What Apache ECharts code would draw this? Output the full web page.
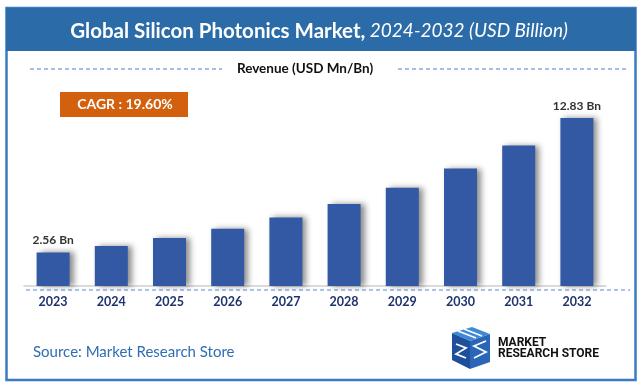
<!DOCTYPE html>
<html><head><meta charset="utf-8">
<script src="https://cdn.jsdelivr.net/npm/echarts@6/dist/echarts.min.js"></script>
<style>html,body{margin:0;padding:0;background:#fff}#c{width:643px;height:387px}</style>
</head><body><div id="c"></div>
<script>
const years = ['2023','2024','2025','2026','2027','2028','2029','2030','2031','2032'];
const revenue = [2.56, 3.06, 3.66, 4.38, 5.24, 6.27, 7.50, 8.97, 10.73, 12.83];
const labelledIdx = [0, 9];
const titleBold = 'Global Silicon Photonics Market,';
const titleItalic = ' 2024-2032 (USD Billion)';
const legendText = 'Revenue (USD Mn/Bn)';
const cagrText = 'CAGR : 19.60%';
const sourceText = 'Source: Market Research Store';

const chart = echarts.init(document.getElementById('c'), null, {renderer:'canvas'});
const F = 'Lato, "Open Sans", sans-serif';
chart.setOption({
  backgroundColor:'#fff',
  animation:false,
  grid:{left:24, right:37, top:102.7, bottom:101},
  xAxis:{type:'category', data:years,
    axisLine:{lineStyle:{color:'#cfcfcf', width:1.5}}, axisTick:{show:false},
    axisLabel:{color:'#1f3370', fontWeight:'bold', fontSize:12.5, fontFamily:F, margin:9}},
  yAxis:{type:'value', min:0, max:14, show:false, splitLine:{show:false}},
  series:[{type:'bar', data:revenue, barWidth:33,
    itemStyle:{color:'#3358a4', shadowColor:'rgba(0,0,0,0.45)', shadowBlur:6, shadowOffsetX:4, shadowOffsetY:0},
    label:{show:true, position:'top', distance:6, color:'#333', fontWeight:'bold', fontSize:12, fontFamily:F,
      formatter:p => labelledIdx.includes(p.dataIndex) ? p.value.toFixed(2)+' Bn' : ''}}],
  graphic:[
    {type:'rect', z:-1, shape:{x:6.5, y:8, width:629, height:372}, style:{fill:'none', stroke:'#3a7cc4', lineWidth:2.5}},
    {type:'rect', shape:{x:6, y:8, width:630, height:43}, style:{fill:'#2b6ca8'}},
    {type:'text', x:319, y:31, style:{text:'{b|'+titleBold+'}{i|'+titleItalic+'}', align:'center', verticalAlign:'middle',
      rich:{b:{fill:'#fff', fontWeight:'bold', fontSize:20.5, fontFamily:F}, i:{fill:'#fff', fontStyle:'italic', fontSize:19, fontFamily:F}}}},
    {type:'line', shape:{x1:30, y1:69, x2:222, y2:69}, style:{stroke:'#4a7fcf', lineWidth:1, lineDash:[4,3]}},
    {type:'line', shape:{x1:398, y1:69, x2:626, y2:69}, style:{stroke:'#4a7fcf', lineWidth:1, lineDash:[4,3]}},
    {type:'text', x:305, y:69, style:{text:legendText, align:'center', verticalAlign:'middle', fill:'#111', fontWeight:'bold', fontSize:13.5, fontFamily:F}},
    {type:'rect', shape:{x:60, y:92, width:128, height:25}, style:{fill:'#d2600f'}},
    {type:'text', x:125, y:104.5, style:{text:cagrText, align:'center', verticalAlign:'middle', fill:'#fff', fontWeight:'bold', fontSize:14, fontFamily:F}},
    {type:'line', shape:{x1:26, y1:290, x2:630, y2:290}, style:{stroke:'#5a8ad6', lineWidth:1.2, lineDash:[4,3]}},
    {type:'text', x:33, y:352, style:{text:sourceText, verticalAlign:'middle', fill:'#2e6db4', fontSize:15, fontFamily:F}},
    // logo
    {type:'polygon', shape:{points:[[452,333],[472,327],[490,334],[470,341]]}, style:{fill:'#3f8ad6'}},
    {type:'polygon', shape:{points:[[452,333],[470,341],[470,369],[452,360]]}, style:{fill:'#1d4f9a'}},
    {type:'polygon', shape:{points:[[470,341],[490,334],[490,362],[470,369]]}, style:{fill:'#2a66b8'}},
    {type:'polyline', shape:{points:[[458,331],[476,338]]}, style:{stroke:'#fff', lineWidth:1.5}},
    {type:'polyline', shape:{points:[[464,329],[482,336]]}, style:{stroke:'#fff', lineWidth:1.5}},
    {type:'polyline', shape:{points:[[456,344],[466,348],[456,354],[466,358]]}, style:{stroke:'#fff', lineWidth:1.8, fill:'none'}},
    {type:'polyline', shape:{points:[[486,341],[474,346],[486,352],[474,358]]}, style:{stroke:'#fff', lineWidth:1.8, fill:'none'}},
    {type:'text', x:498, y:342.5, style:{text:'MARKET', verticalAlign:'middle', fill:'#111', fontWeight:'bold', fontSize:12, fontFamily:'Roboto, sans-serif'}},
    {type:'text', x:498, y:354, style:{text:'RESEARCH STORE', verticalAlign:'middle', fill:'#111', fontWeight:'bold', fontSize:12, fontFamily:'Roboto, sans-serif'}}
  ]
});
</script></body></html>
